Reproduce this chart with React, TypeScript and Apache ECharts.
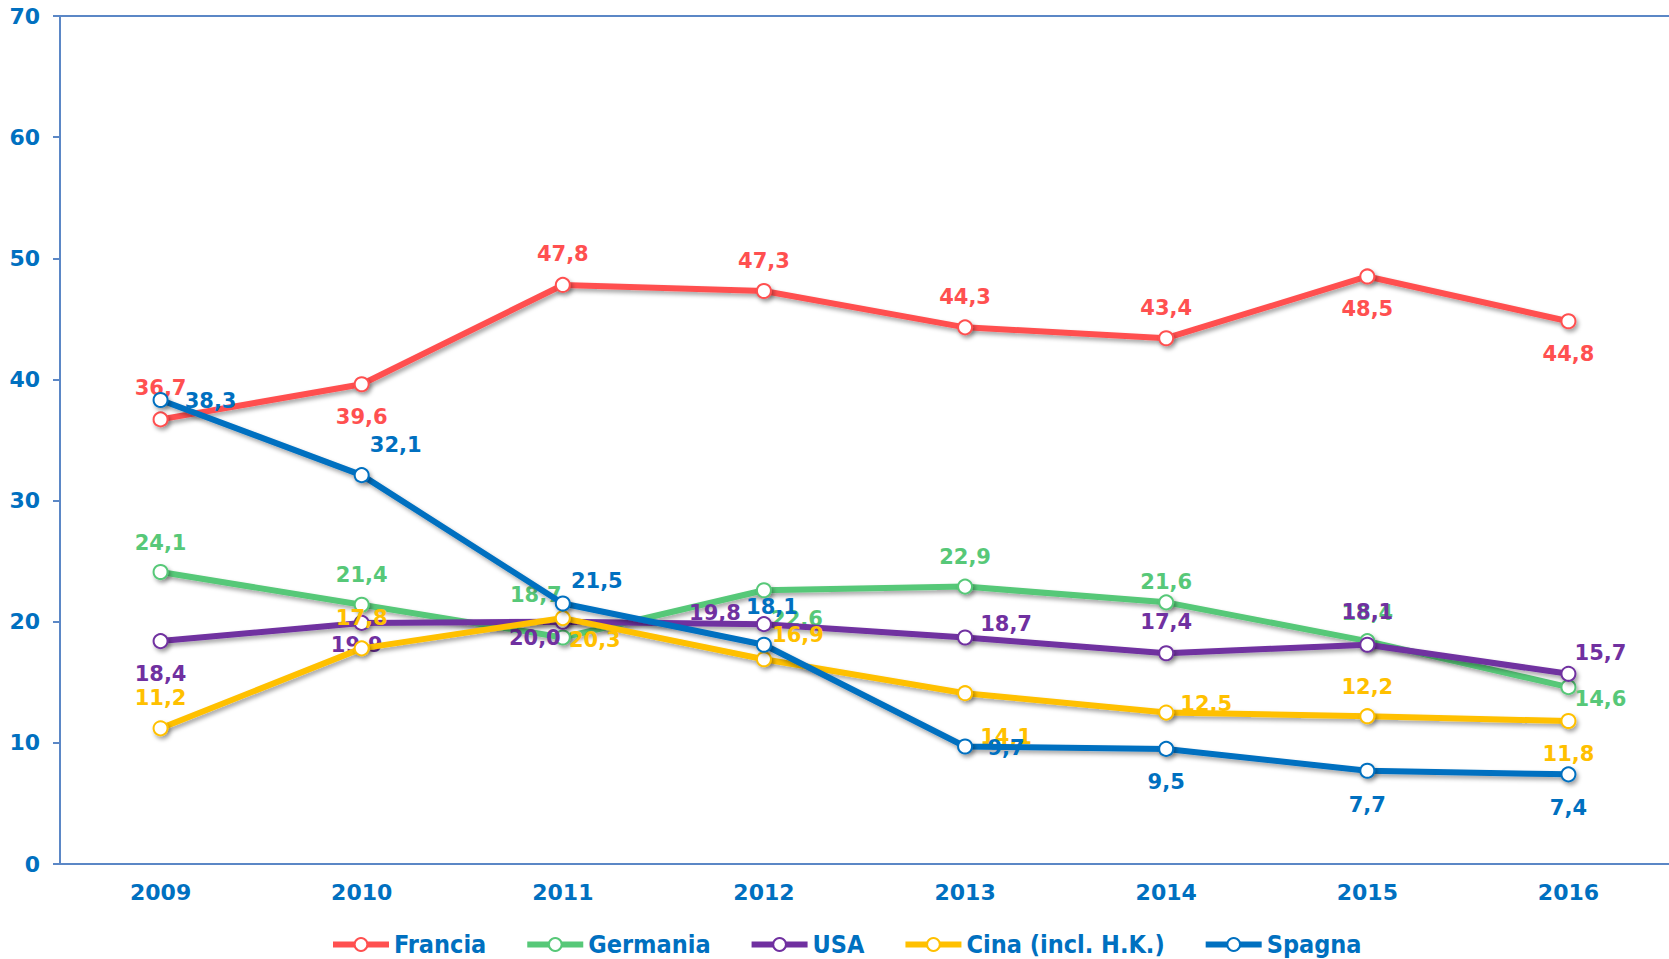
import React, { useEffect, useRef } from "react";
import * as echarts from "echarts";

const years = ["2009", "2010", "2011", "2012", "2013", "2014", "2015", "2016"];
const seriesNames = ["Francia", "Germania", "USA", "Cina (incl. H.K.)", "Spagna"];
const francia = [36.7, 39.6, 47.8, 47.3, 44.3, 43.4, 48.5, 44.8];
const germania = [24.1, 21.4, 18.7, 22.6, 22.9, 21.6, 18.4, 14.6];
const usa = [18.4, 19.9, 20.0, 19.8, 18.7, 17.4, 18.1, 15.7];
const cina = [11.2, 17.8, 20.3, 16.9, 14.1, 12.5, 12.2, 11.8];
const spagna = [38.3, 32.1, 21.5, 18.1, 9.7, 9.5, 7.7, 7.4];
const yTicks = { min: 0, max: 70, interval: 10 };

const colors = ["#FF5050", "#57C878", "#7030A0", "#FFC000", "#0070C0"];

// label offsets (px) from each point, styling only
const labelOffsets: number[][][] = [
  [[0, -31], [0, 33], [0, -31], [0, -30], [0, -30], [0, -30], [0, 33], [0, 33]],
  [[0, -29], [0, -30], [-27, -42], [33, 29], [0, -30], [0, -20], [0, -28], [32, 12]],
  [[0, 33], [-5, 22], [-28, 16], [-49, -11], [41, -13], [0, -31], [0, -33], [32, -21]],
  [[0, -30], [0, -30], [32, 22], [34, -24], [41, 44], [40, -9], [0, -29], [0, 33]],
  [[50, 1], [34, -30], [34, -23], [8, -38], [41, 2], [0, 33], [0, 34], [0, 34]],
];

const allData = [francia, germania, usa, cina, spagna];
const axisColor = "#5B87C6";
const labelBlue = "#0070C0";
const font = "'DejaVu Sans', Verdana, sans-serif";

export default function App() {
  const ref = useRef<HTMLDivElement>(null);
  useEffect(() => {
    if (!ref.current) return;
    const chart = echarts.init(ref.current, undefined, { renderer: "svg" });
    const series = allData.map((vals, si) => ({
      name: seriesNames[si],
      type: "line",
      xAxisIndex: 0,
      symbol: "circle",
      symbolSize: 14,
      data: vals.map((v, i) => ({
        value: v,
        label: { offset: labelOffsets[si][i] },
      })),
      lineStyle: {
        color: colors[si],
        width: 6,
        shadowColor: "rgba(0,0,0,0.35)",
        shadowBlur: 4,
        shadowOffsetX: 2,
        shadowOffsetY: 3,
      },
      itemStyle: {
        color: "#FFFFFF",
        borderColor: colors[si],
        borderWidth: 2,
        shadowColor: "rgba(0,0,0,0.35)",
        shadowBlur: 4,
        shadowOffsetX: 2,
        shadowOffsetY: 3,
      },
      label: {
        show: true,
        position: "inside",
        color: colors[si],
        fontFamily: font,
        fontWeight: "bold",
        fontSize: 21,
        formatter: (p: any) => Number(p.value).toFixed(1).replace(".", ","),
      },
      emphasis: { disabled: true },
      z: 2 + si,
    }));
    chart.setOption({
      animation: false,
      backgroundColor: "#FFFFFF",
      grid: { left: 60, top: 16, right: 0, bottom: 95, containLabel: false },
      legend: {
        data: seriesNames,
        left: 325,
        top: 927,
        itemWidth: 56,
        itemHeight: 16,
        itemGap: 38,
        textStyle: {
          color: labelBlue,
          fontFamily: "'DejaVu Sans Condensed', 'DejaVu Sans', sans-serif",
          fontWeight: "bold",
          fontSize: 25,
        },
        itemStyle: { color: "#FFFFFF", borderWidth: 2, shadowBlur: 0, shadowOffsetX: 0, shadowOffsetY: 0 },
        lineStyle: { width: 6, shadowBlur: 0, shadowOffsetX: 0, shadowOffsetY: 0 },
      },
      xAxis: [
        {
          type: "category",
          data: years,
          boundaryGap: true,
          axisLine: { lineStyle: { color: axisColor, width: 2 } },
          axisTick: { show: false },
          axisLabel: {
            color: labelBlue,
            fontFamily: font,
            fontWeight: "bold",
            fontSize: 22,
            margin: 17,
          },
          splitLine: { show: false },
        },
        {
          type: "category",
          data: years,
          position: "top",
          axisLine: { show: true, lineStyle: { color: axisColor, width: 2 } },
          axisTick: { show: false },
          axisLabel: { show: false },
          splitLine: { show: false },
        },
      ],
      yAxis: {
        type: "value",
        min: yTicks.min,
        max: yTicks.max,
        interval: yTicks.interval,
        axisLine: { show: true, lineStyle: { color: axisColor, width: 2 } },
        axisTick: { show: true, length: 7, lineStyle: { color: axisColor, width: 2 } },
        axisLabel: {
          color: labelBlue,
          fontFamily: font,
          fontWeight: "bold",
          fontSize: 22,
          margin: 20,
        },
        splitLine: { show: false },
      },
      series,
    });
    return () => chart.dispose();
  }, []);
  return (
    <div
      ref={ref}
      style={{ position: "absolute", left: 0, top: 0, width: 1669, height: 959 }}
    />
  );
}
